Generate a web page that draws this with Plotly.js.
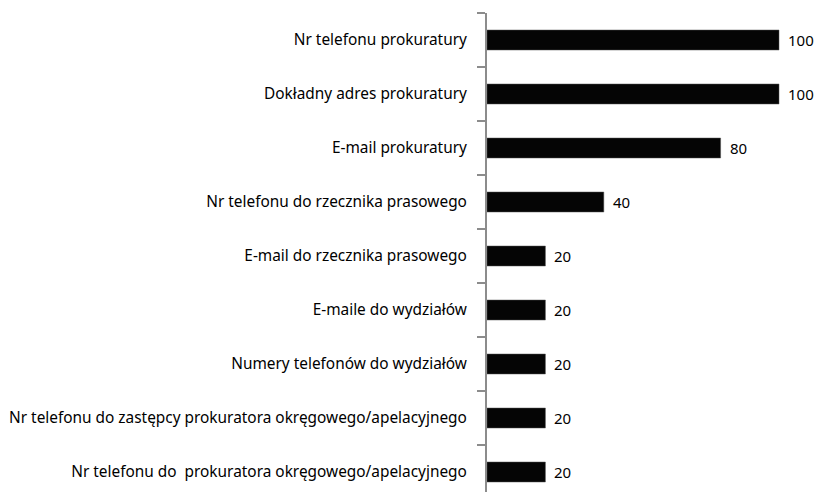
<!DOCTYPE html>
<html><head><meta charset="utf-8">
<script src="https://cdn.plot.ly/plotly-3.0.1.min.js"></script>
<style>body{margin:0;padding:0;background:#fff}#chart{width:819px;height:492px}</style>
</head><body><div id="chart"></div>
<script>
const categories = [
  "Nr telefonu prokuratury",
  "Dokładny adres prokuratury",
  "E-mail prokuratury",
  "Nr telefonu do rzecznika prasowego",
  "E-mail do rzecznika prasowego",
  "E-maile do wydziałów",
  "Numery telefonów do wydziałów",
  "Nr telefonu do zastępcy prokuratora okręgowego/apelacyjnego",
  "Nr telefonu do\u00a0 prokuratora okręgowego/apelacyjnego"
];
const values = [100, 100, 80, 40, 20, 20, 20, 20, 20];

const trace = {
  type: 'bar',
  orientation: 'h',
  y: categories,
  x: values,
  marker: {color: '#050505', line: {color: '#555', width: 0.5}},
  hoverinfo: 'none'
};
const valueLabels = values.map((v, i) => ({
  x: v, y: categories[i], xref: 'x', yref: 'y',
  text: String(v), showarrow: false,
  xanchor: 'left', yanchor: 'middle', xshift: 7,
  font: {family: 'Noto Sans, sans-serif', size: 15, color: '#000'}
}));
const layout = {
  width: 819, height: 492,
  margin: {l: 487, r: 0, t: 13, b: 0, pad: 0},
  paper_bgcolor: '#fff', plot_bgcolor: '#fff',
  bargap: 0.63,
  showlegend: false,
  font: {family: 'Noto Sans, sans-serif', size: 15, color: '#000'},
  xaxis: {range: [0, 113.7], visible: false, fixedrange: true},
  yaxis: {
    type: 'category',
    autorange: false,
    range: [8.37, -0.5],
    showline: true, linecolor: '#8c8c8c', linewidth: 2,
    ticks: 'outside', tickson: 'boundaries', ticklen: 8, tickcolor: '#8c8c8c', tickwidth: 2,
    showgrid: false, zeroline: false,
    tickfont: {family: 'Noto Sans, sans-serif', size: 15.4, color: '#000'},
    ticklabelstandoff: 15
  },
  annotations: valueLabels
};
Plotly.newPlot('chart', [trace], layout, {displayModeBar: false, staticPlot: true});
</script></body></html>
